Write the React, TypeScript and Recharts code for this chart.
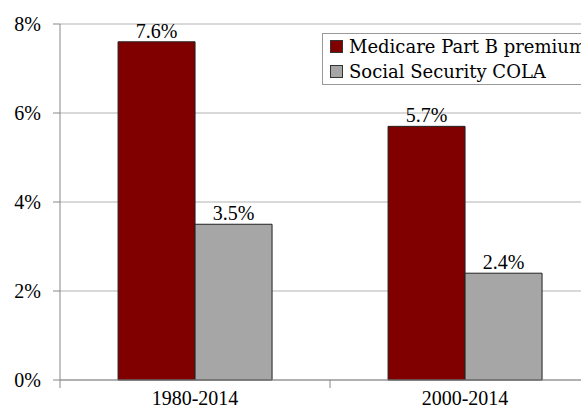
import { BarChart, Bar, XAxis, YAxis, CartesianGrid, LabelList } from 'recharts';

const periods = ['1980-2014', '2000-2014'];
const medicarePartB = [7.6, 5.7];
const socialSecurityCola = [3.5, 2.4];
const yTicks = [0, 2, 4, 6, 8];
const seriesNames = ['Medicare Part B premium', 'Social Security COLA'];
const seriesColors = ['#800000', '#a6a6a6'];

const data = periods.map((period, i) => ({
  period,
  medicare: medicarePartB[i],
  cola: socialSecurityCola[i],
}));

const FONT = 'Liberation Serif, Times New Roman, serif';
const LEGEND_FONT = 'DejaVu Serif, serif';
const FS = 20;
const CHART_W = 620;
const PLOT_W = 540;
const HALF_BAND = PLOT_W / periods.length / 2;

function PeriodTick(props: any) {
  const { x, y, payload, index } = props;
  return (
    <g>
      <text x={x} y={y + 25} textAnchor="middle" fontSize={FS} fontFamily={FONT} fill="#000">
        {payload.value}
      </text>
      {index === 0 && (
        <>
          <line x1={x - HALF_BAND} x2={x - HALF_BAND} y1={y} y2={y + 8} stroke="#888" />
          <line x1={x + HALF_BAND} x2={x + HALF_BAND} y1={y} y2={y + 8} stroke="#888" />
        </>
      )}
    </g>
  );
}

function PctTick(props: any) {
  const { x, y, payload } = props;
  return (
    <text x={x} y={y} dy={7} textAnchor="end" fontSize={FS} fontFamily={FONT} fill="#000">
      {`${payload.value}%`}
    </text>
  );
}

function BarValue(props: any) {
  const { x, y, width, value } = props;
  return (
    <text x={x + width / 2} y={y - 4} textAnchor="middle" fontSize={FS} fontFamily={FONT} fill="#000">
      {`${Number(value).toFixed(1)}%`}
    </text>
  );
}

function LegendBox() {
  return (
    <div
      style={{
        position: 'absolute',
        left: 322,
        top: 33,
        width: 300,
        border: '1px solid #999',
        background: '#fff',
        padding: '0 7px',
        fontFamily: LEGEND_FONT,
        fontSize: 18,
        lineHeight: '25px',
        color: '#000',
        whiteSpace: 'nowrap',
      }}
    >
      {seriesNames.map((name, i) => (
        <div key={name} style={{ display: 'flex', alignItems: 'center' }}>
          <span
            style={{
              display: 'inline-block',
              width: 11,
              height: 11,
              background: seriesColors[i],
              border: '1px solid #333',
              marginRight: 6,
            }}
          />
          {name}
        </div>
      ))}
    </div>
  );
}

export default function App() {
  return (
    <div
      style={{
        position: 'absolute',
        left: 0,
        top: 0,
        width: 581,
        height: 414,
        overflow: 'hidden',
        background: '#fff',
        fontFamily: FONT,
      }}
    >
      <BarChart
        width={CHART_W}
        height={414}
        data={data}
        margin={{ top: 24, right: 20, bottom: 0, left: 0 }}
        barCategoryGap="21.5%"
        barGap={0}
      >
        <CartesianGrid vertical={false} stroke="#b3b3b3" />
        <XAxis
          dataKey="period"
          height={34}
          tickLine={false}
          tickSize={0}
          tickMargin={0}
          stroke="#888"
          tick={<PeriodTick />}
          interval={0}
        />
        <YAxis
          width={60}
          domain={[0, 8]}
          ticks={yTicks}
          tickSize={7}
          tickMargin={12}
          stroke="#888"
          tick={<PctTick />}
        />
        <Bar dataKey="medicare" name={seriesNames[0]} fill={seriesColors[0]} stroke="#222" strokeWidth={1} isAnimationActive={false}>
          <LabelList dataKey="medicare" content={<BarValue />} />
        </Bar>
        <Bar dataKey="cola" name={seriesNames[1]} fill={seriesColors[1]} stroke="#222" strokeWidth={1} isAnimationActive={false}>
          <LabelList dataKey="cola" content={<BarValue />} />
        </Bar>
      </BarChart>
      <LegendBox />
    </div>
  );
}
